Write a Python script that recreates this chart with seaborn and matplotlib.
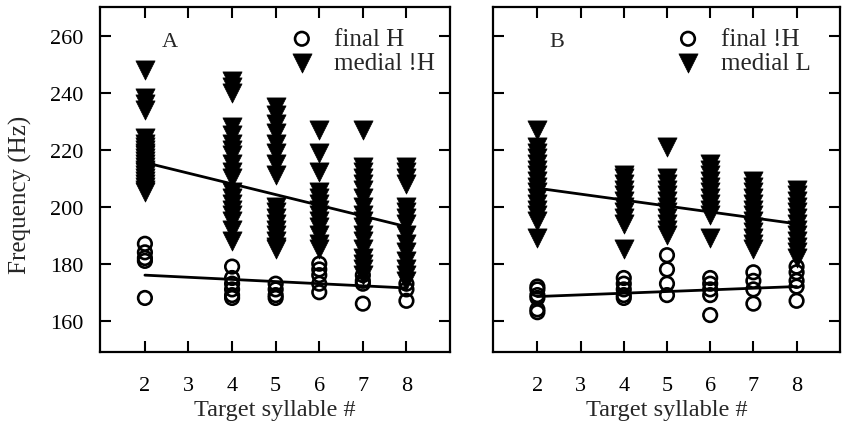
import matplotlib
matplotlib.use("Agg")
import matplotlib.pyplot as plt
import seaborn as sns
import pandas as pd

# target syllable positions and F0 values (Hz)
syllables = [2, 4, 5, 6, 7, 8]

a_final_hz = [
    [187, 184, 182, 181, 168],
    [179, 175, 173, 171, 169, 168],
    [173, 171, 169, 168],
    [180, 178, 176, 173, 170],
    [176, 174, 173, 166],
    [173, 171, 167],
]
a_medial_hz = [
    [248, 238, 236, 234, 224, 222, 221, 220, 219, 218, 217, 216, 215, 214, 213, 212, 211, 210, 209, 208, 207, 206, 205],
    [244, 242, 240, 228, 225, 222, 220, 218, 215, 212, 210, 205, 203, 201, 199, 197, 195, 192, 188],
    [235, 232, 229, 226, 222, 219, 215, 211, 200, 198, 196, 194, 192, 190, 188, 186, 185],
    [227, 219, 212, 205, 203, 201, 199, 197, 195, 193, 190, 187, 185],
    [227, 214, 212, 210, 208, 206, 203, 200, 197, 195, 193, 190, 188, 185, 182, 180, 178, 176],
    [214, 212, 210, 208, 200, 198, 196, 194, 190, 187, 184, 181, 178, 176, 174],
]
b_final_hz = [
    [172, 171, 169, 168, 164, 163],
    [175, 173, 171, 169, 168],
    [183, 178, 173, 169],
    [175, 173, 171, 169, 162],
    [177, 174, 171, 166],
    [179, 177, 174, 172, 167],
]
b_medial_hz = [
    [227, 221, 219, 217, 215, 213, 211, 209, 207, 205, 203, 201, 199, 197, 195, 189],
    [211, 210, 208, 206, 204, 202, 200, 198, 196, 194, 185],
    [221, 210, 208, 206, 204, 202, 200, 198, 196, 194, 192, 190],
    [215, 213, 211, 209, 207, 205, 203, 201, 199, 197, 189],
    [209, 207, 205, 203, 201, 199, 197, 195, 193, 191, 189, 187, 185],
    [206, 204, 202, 200, 198, 196, 194, 192, 190, 188, 186, 184, 182],
]

# regression line endpoints (syllable 2 and 8)
line_x = [2, 8]
a_final_fit = [176, 171.5]
a_medial_fit = [215.5, 193]
b_final_fit = [168.5, 172]
b_medial_fit = [206.5, 194]

panel_labels = ["A", "B"]
final_names = ["final H", "final !H"]
medial_names = ["medial !H", "medial L"]


def to_frame(groups):
    rows = []
    for x, vals in zip(syllables, groups):
        for v in vals:
            rows.append({"syllable": x, "hz": v})
    return pd.DataFrame(rows)


sns.set_style("ticks")
plt.rcParams["font.family"] = ["Liberation Serif", "DejaVu Serif"]
plt.rcParams["axes.linewidth"] = 1.6

fig = plt.figure(figsize=(8.44, 4.27), dpi=100)
ax_a = fig.add_axes([0.1185, 0.173, 0.4147, 0.808])
ax_b = fig.add_axes([0.584, 0.173, 0.411, 0.808])

panels = [
    (ax_a, a_final_hz, a_medial_hz, a_final_fit, a_medial_fit, 0.2, 0.958),
    (ax_b, b_final_hz, b_medial_hz, b_final_fit, b_medial_fit, 0.185, 0.915),
]

for i, (ax, fin, med, fin_fit, med_fit, lab_x, leg_x) in enumerate(panels):
    sns.scatterplot(data=to_frame(fin), x="syllable", y="hz", ax=ax, marker="o",
                    s=95, facecolor="none", edgecolor="black", linewidth=1.9,
                    label=final_names[i], zorder=3)
    sns.scatterplot(data=to_frame(med), x="syllable", y="hz", ax=ax, marker="v",
                    s=190, color="black", edgecolor="black", linewidth=0.5,
                    label=medial_names[i], zorder=3)
    sns.lineplot(x=line_x, y=fin_fit, ax=ax, color="black", linewidth=2.0, zorder=4)
    sns.lineplot(x=line_x, y=med_fit, ax=ax, color="black", linewidth=2.0, zorder=4)

    ax.set_xlim(0.97, 9.0)
    ax.set_ylim(149, 270)
    ax.set_xticks([2, 3, 4, 5, 6, 7, 8])
    ax.set_yticks([160, 180, 200, 220, 240, 260])
    ax.tick_params(direction="in", top=True, right=True, length=8, width=1.5,
                   labelsize=16, colors="black")
    ax.tick_params(axis="x", pad=17)
    ax.tick_params(axis="y", pad=12)
    ax.set_xlabel("Target syllable #", fontsize=17.5, labelpad=3)
    ax.set_ylabel("")
    ax.text(lab_x, 0.9, panel_labels[i], transform=ax.transAxes, fontsize=16,
            va="center", ha="center")
    ax.legend(loc="upper right", bbox_to_anchor=(leg_x, 0.94), frameon=False,
              fontsize=18, handletextpad=0.75, labelspacing=0.05,
              borderaxespad=0, borderpad=0, handlelength=1.1)
    for sp in ax.spines.values():
        sp.set_visible(True)
        sp.set_color("black")

ax_a.set_ylabel("Frequency (Hz)", fontsize=18)
ax_a.yaxis.set_label_coords(-0.195, 0.458)
ax_b.tick_params(axis="y", labelleft=False)

fig.savefig("out.png", dpi=100)
